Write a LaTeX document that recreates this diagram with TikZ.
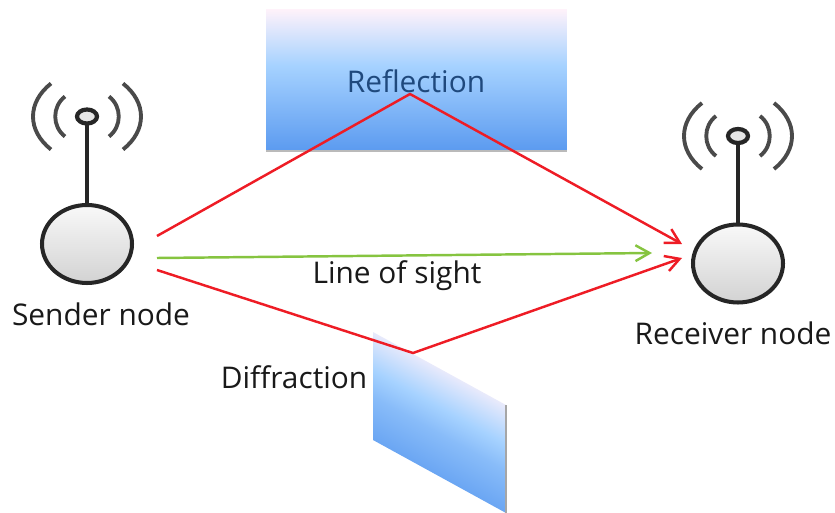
\documentclass[tikz,border=0pt]{standalone}
\usepackage{fontspec}
\setmainfont{Open Sans}
\usetikzlibrary{positioning,arrows.meta,shapes.geometric,shadows}
\definecolor{RayRed}{HTML}{EE1C25}
\definecolor{RayGreen}{HTML}{86C440}
\definecolor{LabelBlue}{HTML}{1F497D}
\definecolor{RingDark}{HTML}{262626}
\definecolor{WaveGray}{HTML}{4A4A4A}
\definecolor{WallTop}{HTML}{FFF2FA}
\definecolor{WallMid}{HTML}{A6D2FF}
\definecolor{WallLow}{HTML}{5C9BF0}
\pgfdeclareverticalshading{wallfade}{100bp}{
  color(0bp)=(WallLow); color(25bp)=(WallLow); color(43bp)=(WallMid!60!WallLow);
  color(55bp)=(WallMid); color(75bp)=(WallTop); color(100bp)=(WallTop)}
\pgfdeclareverticalshading{slantfade}{100bp}{
  color(0bp)=(WallLow); color(30bp)=(WallLow); color(47bp)=(WallMid!60!WallLow);
  color(54bp)=(WallMid); color(68bp)=(WallTop); color(100bp)=(WallTop)}

\begin{document}
\begin{tikzpicture}[x=0.02cm,y=-0.02cm,
          every node/.style={font=\fontsize{17}{20}\selectfont,inner sep=0pt,outer sep=0pt,text=black!90},
          ball/.style={ellipse,draw=RingDark,line width=2.3pt,top color=gray!5,bottom color=gray!35,
            minimum width=1.8cm,minimum height=1.56cm},
          tip/.style={ellipse,draw=RingDark,line width=2.4pt,fill=gray!20,
            minimum width=0.4cm,minimum height=0.28cm},
          mast/.style={RingDark,line width=2.3pt},
          wave/.style={WaveGray,line width=2.2pt},
          redray/.style={-{Straight Barb[length=8pt,width=9pt]},RayRed,line width=1.4pt,line join=round},
          greenray/.style={-{Straight Barb[length=8pt,width=9pt]},RayGreen,line width=1.4pt}]
        \useasboundingbox (0,0) rectangle (835,513);
        % blocking walls
        \node[shading=wallfade,minimum width=6.02cm,minimum height=2.82cm,
          drop shadow={shadow xshift=0pt,shadow yshift=-1pt,opacity=.45,fill=gray!80!black}]
        (wall) at (416.5,79.5) {};
        \shade[shading=slantfade,shading angle=-29] (373,332) -- (506,405) -- (506,513) -- (373,440) -- cycle;
        \draw[gray!70,line width=1pt] (506,405) -- (506,513);
        % the two radios
        \foreach \nname/\nx/\ny in {sender/87/244,receiver/738/263.5} {
          \node[ball] (\nname) at (\nx,\ny) {};
          \node[tip] (\nname tip) at (\nx,\ny-127.5) {};
          \draw[mast] (\nname tip) -- (\nname);
          \begin{scope}[shift={(\nname tip)}]
            \foreach \s in {1,-1} {
              \draw[wave] (\s*22,-20) .. controls (\s*35,-10) and (\s*35,10) .. (\s*22,20);
              \draw[wave] (\s*36,-33) .. controls (\s*60,-14) and (\s*60,14) .. (\s*36,33);
            }
          \end{scope}
        }
        \node (sendertext) at (101,314) {Sender node};
        \node (receivertext) at (733,333) {Receiver node};
        \node[text=LabelBlue] (reflecttext) at (416,81) {Reflection};
        \node (sighttext) at (397,276) {Line of sight};
        \node (difftext) at (294,377) {Diffraction};
        % ray ends
        \coordinate (upstart) at (157,236);
        \coordinate (midstart) at (157,258);
        \coordinate (lowstart) at (157,270);
        \coordinate (upbounce) at (410,94);
        \coordinate (lowbounce) at (413,353);
        \coordinate (upend) at (682,244);
        \coordinate (midend) at (652,253);
        \coordinate (lowend) at (682,258);
        \draw[redray] (upstart) -- (upbounce) -- (upend);
        \draw[greenray] (midstart) -- (midend);
        \draw[redray] (lowstart) -- (lowbounce) -- (lowend);
      \end{tikzpicture}
\end{document}
